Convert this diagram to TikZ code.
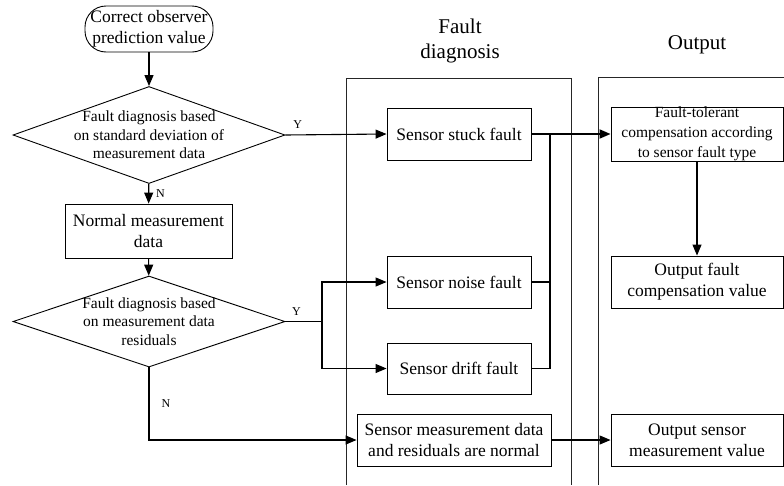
\documentclass[tikz,border=0pt]{standalone}
\usepackage{fontspec}
\setmainfont{Liberation Serif}
\usetikzlibrary{shapes.geometric,arrows.meta}

\begin{document}
\begin{tikzpicture}[x=1pt, y=-1pt,
				every node/.style={inner sep=0pt, align=center},
				box/.style={draw, line width=0.9pt, minimum width=144pt, minimum height=52pt, font=\fontsize{17.5}{21}\selectfont},
				outbox/.style={box, minimum width=172pt},
				decision/.style={diamond, draw, line width=0.9pt, minimum width=272pt},
				smalltext/.style={font=\fontsize{15.5}{18.5}\selectfont},
				yn/.style={font=\fontsize{12}{12}\selectfont},
				title/.style={font=\fontsize{21}{25}\selectfont},
				panel/.style={draw=black!85, line width=0.9pt},
				arr/.style={-{Triangle[length=11pt,width=9pt]}, line width=1.1pt},
				bus/.style={line width=1.8pt}
				]
				\useasboundingbox (0,0) rectangle (784,485);
				% left column
				\node[draw, line width=0.9pt, rounded corners=21pt, minimum width=128pt, minimum height=46pt,
					font=\fontsize{17.5}{21}\selectfont] (start) at (149,29) {Correct observer\\prediction value};
				\node[decision, minimum height=97pt, label={[smalltext]center:{Fault diagnosis based\\on standard deviation of\\measurement data}}] (dstd) at (149,135) {};
				\node[box, minimum width=167pt, minimum height=54pt] (normal) at (148.5,231) {Normal measurement\\data};
				\node[decision, minimum height=91pt, label={[smalltext]center:{Fault diagnosis based\\on measurement data\\residuals}}] (dres) at (149,321.5) {};
				% panels
				\draw[panel] (346,485) -- (346,78) -- (571,78) -- (571,485);
				\draw[panel] (598,485) -- (598,77) -- (790,77);
				\node[title] (tdiag) at (460,41) {Fault\\diagnosis};
				\node[title] (tout) at (697,45) {Output};
				% fault diagnosis
				\node[box] (stuck) at (459,134) {Sensor stuck fault};
				\node[box] (noise) at (459,282) {Sensor noise fault};
				\node[box, minimum height=51pt] (drift) at (459,368.5) {Sensor drift fault};
				\node[box, minimum width=194pt] (ok) at (454,440) {Sensor measurement data\\and residuals are normal};
				% output
				\node[outbox, smalltext, font=\fontsize{15.5}{20}\selectfont] (comp) at (697,134) {Fault-tolerant\\compensation according\\to sensor fault type};
				\node[outbox] (outcomp) at (697,282) {Output fault\\compensation value};
				\node[outbox] (outmeas) at (697,440) {Output sensor\\measurement value};
				% connectors
				\coordinate (split) at (322,321.5);
				\coordinate (join) at (550,134);
				\draw[arr] (start) -- (dstd);
				\draw[arr] (dstd) -- node[yn, right=7pt] {N} (normal);
				\draw[arr] (normal) -- (dres);
				\draw[arr] (dstd.east) -- node[yn, pos=0.12, above=6pt] {Y} (stuck.west);
				\draw[line width=1.1pt] (dres.east) -- node[yn, pos=0.3, above=5pt] {Y} (split);
				\draw[arr] (split) |- (noise.west);
				\draw[arr] (split) |- (drift.west);
				\draw[arr] (dres.south) |- node[yn, pos=0.25, right=12pt] {N} (ok.west);
				\draw[line width=1.1pt] (noise.east) -| (join);
				\draw[bus] (drift.east) -| (join);
				\draw[line width=1.1pt] (stuck.east) -- (join);
				\draw[arr, bus] (join) -- (comp.west);
				\draw[arr] (comp) -- (outcomp);
				\draw[arr] (ok) -- (outmeas);
			\end{tikzpicture}
\end{document}
